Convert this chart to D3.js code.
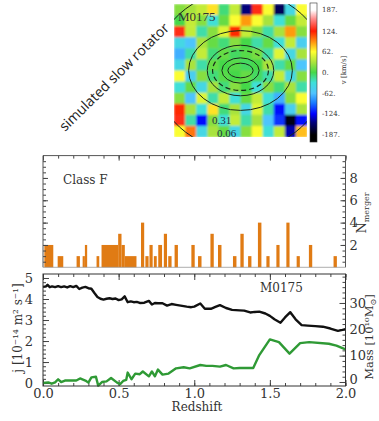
<!DOCTYPE html>
<html lang="en">
<head>
<meta charset="UTF-8">
<title>M0175 slow rotator</title>
<script src="https://d3js.org/d3.v7.min.js"></script>
<style>
  body { margin: 0; background: #fff; }
  svg { display: block; font-family: "DejaVu Serif", serif; }
  .axis path { display: none; }
  .axis line { stroke: #444; }
  .axis text { fill: #333; font-size: 13px; font-family: "DejaVu Serif", serif; }
</style>
</head>
<body>
<svg width="379" height="421"></svg>
<script>
// merger histogram (redshift bin edges, number of mergers)
const binLo = [0.009, 0.097, 0.222, 0.262, 0.277, 0.354, 0.387, 0.497, 0.519, 0.541, 0.648, 0.677, 0.704, 0.733, 0.762, 0.799,
               0.828, 0.870, 0.981, 1.025, 1.107, 1.157, 1.256, 1.305, 1.356, 1.421, 1.477, 1.543, 1.609, 1.677, 1.758, 1.921];
const binHi = [0.068, 0.134, 0.244, 0.277, 0.292, 0.372, 0.497, 0.519, 0.541, 0.618, 0.669, 0.698, 0.725, 0.752, 0.787, 0.820,
               0.850, 0.892, 1.003, 1.048, 1.129, 1.180, 1.279, 1.327, 1.378, 1.444, 1.498, 1.564, 1.630, 1.698, 1.780, 1.943];
const nMerger = [2, 1, 1, 1, 2, 1, 2, 3, 2, 1, 4, 1, 2, 1, 2, 3, 1, 2, 2, 1, 3, 2, 1, 3, 1, 4, 1, 2, 4, 1, 2, 1];

// black: stellar mass [1e10 Msun]
const massZ = [0.00, 0.02, 0.03, 0.045, 0.06, 0.08, 0.10, 0.12, 0.14, 0.16, 0.18, 0.20, 0.22, 0.24, 0.26, 0.28, 0.30, 0.32,
               0.34, 0.36, 0.38, 0.40, 0.42, 0.44, 0.46, 0.48, 0.50, 0.52, 0.54, 0.56, 0.58, 0.60, 0.62, 0.64, 0.67, 0.70,
               0.72, 0.74, 0.76, 0.79, 0.82, 0.85, 0.88, 0.92, 0.95, 0.98, 1.00, 1.04, 1.07, 1.11, 1.14, 1.17, 1.21, 1.25,
               1.30, 1.33, 1.37, 1.40, 1.43, 1.47, 1.50, 1.53, 1.57, 1.60, 1.635, 1.67, 1.71, 1.75, 1.80, 1.85, 1.90, 1.95,
               1.98, 2.00];
const mass = [36.1, 36.3, 36.9, 36.0, 36.3, 36.0, 36.4, 36.0, 36.3, 35.9, 36.4, 36.0, 36.5, 35.3, 35.8, 36.1, 35.6, 35.4,
              33.8, 32.3, 31.6, 31.3, 31.6, 31.8, 31.5, 31.7, 31.1, 31.4, 32.5, 30.3, 30.6, 30.3, 30.4, 30.0, 30.1, 30.8,
              29.4, 30.0, 29.9, 29.9, 29.0, 29.6, 29.3, 28.9, 28.6, 28.4, 28.6, 29.8, 27.8, 27.8, 28.5, 29.2, 28.1, 27.4,
              27.2, 27.1, 26.4, 26.6, 26.7, 26.0, 25.1, 23.8, 22.5, 24.5, 26.5, 23.8, 21.6, 21.4, 21.2, 21.0, 20.3, 19.4,
              19.8, 20.1];

// green: specific angular momentum j
const jZ = [0.00, 0.035, 0.057, 0.08, 0.10, 0.12, 0.145, 0.22, 0.245, 0.28, 0.30, 0.32, 0.35, 0.365, 0.39, 0.42, 0.45,
            0.49, 0.51, 0.53, 0.55, 0.56, 0.585, 0.61, 0.64, 0.66, 0.70, 0.72, 0.74, 0.76, 0.79, 0.83, 0.88, 0.93, 0.97,
            1.04, 1.08, 1.12, 1.17, 1.21, 1.26, 1.30, 1.39, 1.43, 1.50, 1.56, 1.63, 1.70, 1.76, 1.89, 1.94, 2.00];
const jVal = [0.00, 0.03, -0.03, 0.03, 0.18, 0.05, 0.12, 0.12, 0.22, 0.12, 0.02, 0.27, 0.30, -0.12, 0.05, 0.08, 0.24,
              0.02, -0.05, 0.10, 0.15, 0.50, 0.18, 0.45, 0.42, 0.55, 0.32, 0.55, 0.32, 0.64, 0.40, 0.45, 0.70, 0.75, 0.70,
              0.86, 0.82, 0.82, 0.78, 0.86, 0.70, 0.72, 0.72, 1.33, 2.08, 1.95, 1.40, 1.90, 1.95, 1.87, 1.78, 1.60];

const zTicks = [0, 0.5, 1, 1.5, 2];
const jTicks = [0, 1, 2, 3, 4, 5];
const massTicks = [0, 10, 20, 30];
const nTicks = [2, 4, 6, 8];
const cbarTicks = [187, 124, 62, 0, -62, -124, -187];

// line-of-sight velocity map [km/s], 12 x 12 cells, top row first
const vmap = [
  [ 20,  30,  40,  70, -10,  40, -150, 130,  60, -160, -40,  60],
  [  0,  40,  20, -30,  10,  60,   90,  60,  30,  -30,  10,  40],
  [130,  40, -20,  20,  50, 120,   40,  20, -20,   30,  90,  20],
  [-40, -60,  30,  10, -10,  20,    0, -20,  10,  -30,  40, -50],
  [-70, -20,  40, -10,  10,  -5,    5,  15, -20,   50, -40,  30],
  [-40,  30, -20,  10,   0,   5,   -5,   0,  30,  -20,  10, -60],
  [ 60, -50,  20, -10,   5,   0,   10,  -5, -20,   40, -40,  20],
  [-30,  10, -40,  30, -10,  20,    0, -30,  20,  -10,  30, -20],
  [ 20, -60,  50, -20,  40, -30,   10,  40, -30,  -70,  20,  60],
  [120,  30, -30,  70, -10,  30,  -40,  50, -20, -120, -50,  30],
  [130, -20, -120, 20, -30,  40,  -20,  30, -60, -110, -180, -120],
  [ 60, 100, -40,  30,  10, -40,   20,  60, -30,   40, -140,  80]
];
// isophotes, half-axes in map units
const solidRx = [0.19, 0.28, 0.50, 0.78, 1.30];
const solidRy = [0.11, 0.19, 0.38, 0.60, 1.20];
const dashedRx = [0.42];
const dashedRy = [0.30];

const svg = d3.select("svg");

// ---------------- velocity map ----------------
const mapX = d3.scaleLinear().domain([-1, 1]).range([174, 307]);
const mapY = d3.scaleLinear().domain([-1, 1]).range([137, 4]);
const colX = d3.scaleBand().domain(d3.range(vmap[0].length)).range([174, 307]);
const rowY = d3.scaleBand().domain(d3.range(vmap.length)).range([4, 137]);
const vColor = d3.scaleLinear()
  .domain([-187, -150, -124, -90, -62, -30, 0, 30, 62, 90, 124, 160, 187])
  .range(["#000000", "#00007a", "#0000ff", "#1a7dff", "#4fc3ff", "#3fe0d8", "#45d84a",
          "#a8e33c", "#ffff30", "#ff9a10", "#ff1a00", "#ff8a8a", "#ffffff"])
  .clamp(true);

const defs = svg.append("defs");
defs.append("clipPath").attr("id", "mapclip")
  .append("rect").attr("x", 174).attr("y", 4).attr("width", 133).attr("height", 133);
defs.append("filter").attr("id", "soft").attr("x", 0).attr("y", 0).attr("width", 1).attr("height", 1)
  .append("feGaussianBlur").attr("stdDeviation", 0.9).attr("edgeMode", "duplicate");

const map = svg.append("g").attr("clip-path", "url(#mapclip)");
const cells = map.append("g").attr("filter", "url(#soft)");
vmap.forEach((row, r) => {
  cells.selectAll(null).data(row).join("rect")
    .attr("x", (d, c) => colX(c))
    .attr("y", rowY(r))
    .attr("width", colX.bandwidth() + 0.5)
    .attr("height", rowY.bandwidth() + 0.5)
    .attr("fill", d => vColor(d));
});
map.selectAll(null).data(solidRx).join("ellipse")
  .attr("cx", mapX(0)).attr("cy", mapY(0))
  .attr("rx", d => mapX(d) - mapX(0))
  .attr("ry", (d, i) => mapY(0) - mapY(solidRy[i]))
  .attr("fill", "none").attr("stroke", "#1a2a1a").attr("stroke-width", 1);
map.selectAll(null).data(dashedRx).join("ellipse")
  .attr("cx", mapX(0)).attr("cy", mapY(0))
  .attr("rx", d => mapX(d) - mapX(0))
  .attr("ry", (d, i) => mapY(0) - mapY(dashedRy[i]))
  .attr("fill", "none").attr("stroke", "#1a2a1a").attr("stroke-width", 1.2)
  .attr("stroke-dasharray", "5,3");

svg.append("text").attr("x", 178).attr("y", 20.5).attr("font-size", 13)
  .attr("font-family", "Liberation Serif, serif").attr("fill", "#333").text("M0175");
svg.append("text").attr("x", 212).attr("y", 123.5).attr("font-size", 11)
  .attr("font-family", "Liberation Serif, serif").attr("fill", "#234").text("0.31");
svg.append("text").attr("x", 217).attr("y", 136.5).attr("font-size", 11)
  .attr("font-family", "Liberation Serif, serif").attr("fill", "#234").text("0.06");

// colour bar
const cbY = d3.scaleLinear().domain([-187, 187]).range([135, 10]);
const grad = defs.append("linearGradient").attr("id", "cbar")
  .attr("x1", 0).attr("y1", 1).attr("x2", 0).attr("y2", 0);
vColor.domain().forEach(v => {
  grad.append("stop").attr("offset", (cbY(-208) - cbY(v)) / (cbY(-208) - cbY(208)))
    .attr("stop-color", vColor(v));
});
svg.append("rect").attr("x", 310).attr("y", cbY(208)).attr("width", 7)
  .attr("height", cbY(-208) - cbY(208)).attr("fill", "url(#cbar)")
  .attr("stroke", "#333").attr("stroke-width", 0.6);
svg.append("g").selectAll("text").data(cbarTicks).join("text")
  .attr("x", 322).attr("y", d => cbY(d)).attr("dy", "0.35em")
  .attr("font-size", 7).attr("fill", "#333")
  .text(d => d + ".");
svg.append("text").attr("transform", "translate(346,70) rotate(-90)")
  .attr("text-anchor", "middle").attr("font-size", 7).attr("fill", "#333")
  .text("v [km/s]");

svg.append("text")
  .attr("transform", "translate(114,77) rotate(-44.5)")
  .attr("text-anchor", "middle").attr("dy", "0.35em")
  .attr("font-family", "Open Sans, sans-serif").attr("font-size", 14).attr("fill", "#222")
  .text("simulated slow rotator");

// ---------------- lower panels ----------------
const x = d3.scaleLinear().domain([0, 2]).range([43, 345.5]);
const yN = d3.scaleLinear().domain([0, 10]).range([267.3, 155.6]);
const yJ = d3.scaleLinear().domain([-0.14, 5.19]).range([386, 274]);
const yM = d3.scaleLinear().domain([-1.52, 41]).range([386, 274]);

function ticks(axis, values, size, pad, fmt) {
  return g => g.call(axis.tickValues(values).tickSize(-size).tickPadding(pad).tickFormat(fmt || ""));
}
const xMinor = d3.range(0, 2.001, 0.1);

// merger histogram
svg.append("g").selectAll("rect").data(nMerger).join("rect")
  .attr("x", (d, i) => x(binLo[i]))
  .attr("width", (d, i) => x(binHi[i]) - x(binLo[i]))
  .attr("y", d => yN(d))
  .attr("height", d => yN(0) - yN(d))
  .attr("fill", "#e07b14");

svg.append("g").attr("class", "axis").attr("transform", `translate(0,${yN.range()[1]})`)
  .call(ticks(d3.axisTop(x), xMinor, 3, 0));
svg.append("g").attr("class", "axis").attr("transform", `translate(0,${yN.range()[1]})`)
  .call(ticks(d3.axisTop(x), zTicks, 5, 0));
svg.append("g").attr("class", "axis").attr("transform", `translate(${x(0)},0)`)
  .call(ticks(d3.axisLeft(yN), d3.range(0.5, 10, 0.5), 3, 0));
svg.append("g").attr("class", "axis").attr("transform", `translate(${x(0)},0)`)
  .call(ticks(d3.axisLeft(yN), nTicks, 5, 0));
svg.append("g").attr("class", "axis").attr("transform", `translate(${x(2)},0)`)
  .call(ticks(d3.axisRight(yN), d3.range(0.5, 10, 0.5), 3, 0));
svg.append("g").attr("class", "axis").attr("transform", `translate(${x(2)},0)`)
  .call(ticks(d3.axisRight(yN), nTicks, 5, 4, d3.format("d")));
svg.append("path")
  .attr("d", `M${x(0)},${yN(0)}V${yN.range()[1]}H${x(2)}V${yN(0)}`)
  .attr("fill", "none").attr("stroke", "#555").attr("stroke-width", 1);
svg.append("line").attr("x1", x(0)).attr("x2", x(2)).attr("y1", yN(0)).attr("y2", yN(0))
  .attr("stroke", "#999").attr("stroke-width", 0.8);

svg.append("text").attr("x", 63).attr("y", 183.5).attr("font-size", 12).attr("fill", "#333")
  .text("Class F");
const nLab = svg.append("text").attr("transform", "translate(366,213) rotate(-90)")
  .attr("text-anchor", "middle").attr("fill", "#333").attr("font-size", 13);
nLab.append("tspan").text("N");
nLab.append("tspan").attr("font-size", 8).attr("dy", 3).text("merger");

// j / mass panel
const yB = yJ.range()[0], yT = yJ.range()[1];
svg.append("g").attr("class", "axis").attr("transform", `translate(0,${yB})`)
  .call(ticks(d3.axisBottom(x), xMinor, 3, 0));
svg.append("g").attr("class", "axis").attr("transform", `translate(0,${yB})`)
  .call(ticks(d3.axisBottom(x), zTicks, 6, 2.5, d3.format(".1f")));
svg.append("g").attr("class", "axis").attr("transform", `translate(0,${yT})`)
  .call(ticks(d3.axisTop(x), xMinor, 3, 0));
svg.append("g").attr("class", "axis").attr("transform", `translate(0,${yT})`)
  .call(ticks(d3.axisTop(x), zTicks, 6, 0));
svg.append("g").attr("class", "axis").attr("transform", `translate(${x(0)},0)`)
  .call(ticks(d3.axisLeft(yJ), d3.range(0, 5.01, 0.2), 3, 0));
svg.append("g").attr("class", "axis").attr("transform", `translate(${x(0)},0)`)
  .call(ticks(d3.axisLeft(yJ), jTicks, 6, 10, d3.format("d")));
svg.append("g").attr("class", "axis").attr("transform", `translate(${x(2)},0)`)
  .call(ticks(d3.axisRight(yM), d3.range(0, 40.1, 2), 3, 0));
const massAxis = svg.append("g").attr("class", "axis").attr("transform", `translate(${x(2)},0)`)
  .call(ticks(d3.axisRight(yM), massTicks, 6, 4, d3.format("d")));
// the "0" label sits a little higher, clear of the redshift labels
massAxis.selectAll(".tick text").filter(d => d === 0).attr("dy", "0.1em");

svg.append("path").datum(mass)
  .attr("d", d3.line().x((d, i) => x(massZ[i])).y(d => yM(d)))
  .attr("fill", "none").attr("stroke", "#111").attr("stroke-width", 2.4)
  .attr("stroke-linejoin", "round");
svg.append("path").datum(jVal)
  .attr("d", d3.line().x((d, i) => x(jZ[i])).y(d => yJ(d)))
  .attr("fill", "none").attr("stroke", "#2f9a35").attr("stroke-width", 2.4)
  .attr("stroke-linejoin", "round");

svg.append("rect").attr("x", x(0)).attr("y", yT).attr("width", x(2) - x(0)).attr("height", yB - yT)
  .attr("fill", "none").attr("stroke", "#333").attr("stroke-width", 1);

svg.append("text").attr("x", 260).attr("y", 291.5).attr("font-size", 12).attr("fill", "#333").text("M0175");
svg.append("text").attr("x", 197).attr("y", 411).attr("text-anchor", "middle")
  .attr("font-size", 12).attr("fill", "#333").text("Redshift");
svg.append("text").attr("transform", "translate(22,328) rotate(-90)")
  .attr("text-anchor", "middle").attr("font-size", 12).attr("fill", "#333")
  .text("j [10⁻¹⁴ m² s⁻¹]");
const mLab = svg.append("text").attr("transform", "translate(373,337) rotate(-90)")
  .attr("text-anchor", "middle").attr("font-size", 11.5).attr("fill", "#333");
mLab.append("tspan").text("Mass [10¹⁰M");
mLab.append("tspan").attr("font-size", 8).attr("dy", 3).text("⊙");
mLab.append("tspan").attr("dy", -3).text("]");
</script>
</body>
</html>
